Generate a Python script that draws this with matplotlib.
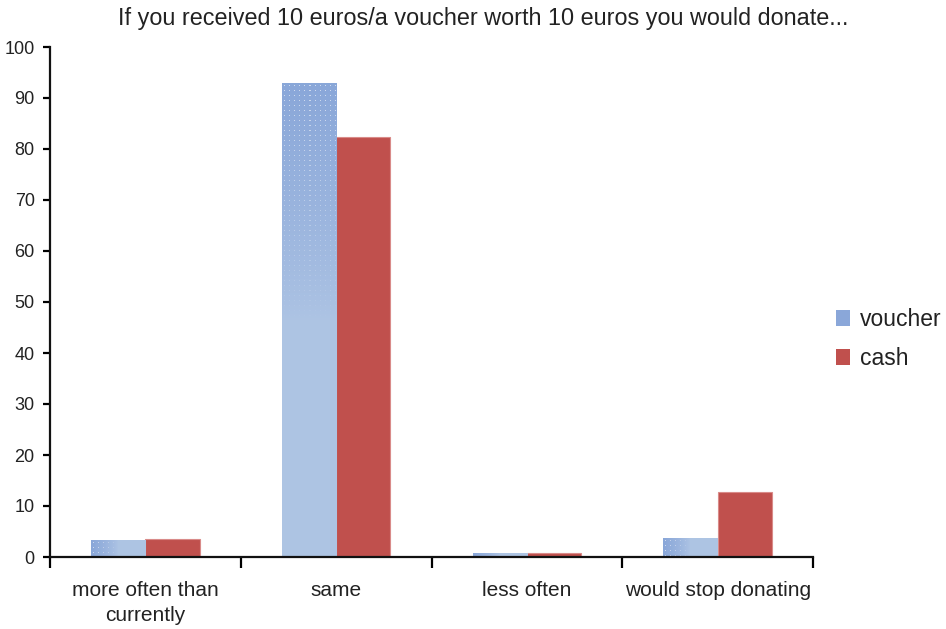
import numpy as np
import matplotlib
matplotlib.use("Agg")
import matplotlib.pyplot as plt
from matplotlib.patches import Patch

categories = ["more often than\ncurrently", "same", "less often", "would stop donating"]
voucher = [3.3, 92.8, 0.6, 3.7]
cash = [3.6, 82.4, 0.8, 12.8]
y_ticks = [0, 10, 20, 30, 40, 50, 60, 70, 80, 90, 100]

plt.rcParams['font.family'] = ['Liberation Sans', 'DejaVu Sans']
text_color = '#222222'

fig = plt.figure(figsize=(9.46, 6.29), dpi=100)
ax = fig.add_axes([50 / 946, 72 / 629, 763 / 946, 510 / 629])

x = np.arange(len(categories))
w = 0.285
light = np.array([0.682, 0.769, 0.894])
dark = np.array([0.540, 0.655, 0.850])
red = '#c0504d'

vbars = ax.bar(x - w / 2, voucher, w, color=light, edgecolor='none', zorder=2)
cbars = ax.bar(x + w / 2, cash, w, color=red, edgecolor='#d98b89', linewidth=0.8, zorder=2)
ax.set_xlim(-0.5, 3.5)
ax.set_ylim(0, 100)

# textured gradient fill for the voucher bars (dotted, fading along the long side)
for b in vbars:
    x0, y0 = b.get_x(), b.get_y()
    bw, bh = b.get_width(), b.get_height()
    px0, py0 = ax.transData.transform((x0, y0))
    px1, py1 = ax.transData.transform((x0 + bw, y0 + bh))
    W = max(int(round(px1 - px0)), 1)
    H = max(int(round(py1 - py0)), 1)
    rows, cols = np.mgrid[0:H, 0:W]
    t = rows / H if H >= W else cols / W
    f = np.clip(1 - t / 0.5, 0, 1) ** 0.8
    img = light + (dark - light) * f[..., None]
    dots = (rows % 5 == 2) & (cols % 5 == 2)
    img = np.where(dots[..., None], img + (1 - img) * 0.6 * f[..., None], img)
    ax.imshow(img, extent=(x0, x0 + bw, y0, y0 + bh), origin='upper', aspect='auto',
              interpolation='nearest', zorder=2.5)

ax.set_xlim(-0.5, 3.5)
ax.set_ylim(0, 100)

for s in ['top', 'right']:
    ax.spines[s].set_visible(False)
for s in ['left', 'bottom']:
    ax.spines[s].set_linewidth(1.6)
    ax.spines[s].set_color('#111111')

ax.set_yticks(y_ticks)
ax.tick_params(axis='y', direction='out', length=5, width=1.6, labelsize=13,
               labelcolor=text_color, pad=6)
ax.set_xticks(np.arange(len(categories) + 1) - 0.5)
ax.set_xticklabels([])
ax.tick_params(axis='x', which='major', direction='out', length=8, width=1.6)
ax.set_xticks(x, minor=True)
ax.set_xticklabels(categories, minor=True, fontsize=15, color=text_color)
ax.tick_params(axis='x', which='minor', length=0, pad=17)
for lbl in ax.get_xticklabels(minor=True):
    lbl.set_linespacing(1.45)

fig.text(483 / 946, 1 - 19 / 629, "If you received 10 euros/a voucher worth 10 euros you would donate...",
         ha='center', va='center', fontsize=16.8, color=text_color)

handles = [Patch(facecolor=dark, edgecolor='none', label='voucher'),
           Patch(facecolor=red, edgecolor='none', label='cash')]
fig.legend(handles=handles, loc='center left', bbox_to_anchor=(831 / 946, 1 - 339 / 629),
           frameon=False, fontsize=16.5, handlelength=0.62, handleheight=0.7,
           handletextpad=0.45, labelspacing=0.7, labelcolor=text_color, borderpad=0.2,
           borderaxespad=0.0)

fig.savefig('out.png', dpi=100)
